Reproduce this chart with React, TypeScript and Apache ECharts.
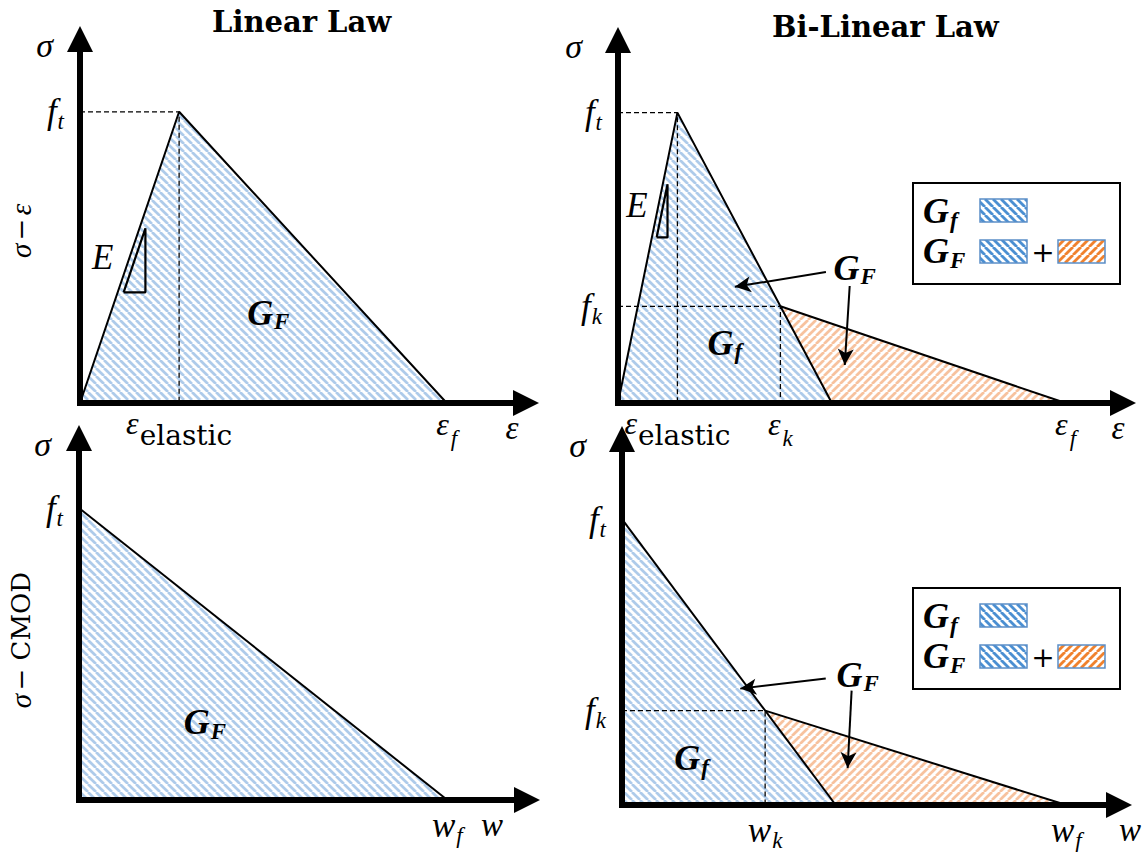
import React, { useEffect, useRef } from 'react';
import * as echarts from 'echarts';

type Pt = [number, number];

// ---- Linear law, stress vs. strain ----
const linEpsCurve: Pt[] = [[0, 0], [1.0, 1.0], [3.7, 0]];
const linEpsGuide: Pt[] = [[0, 1.0], [1.0, 1.0], [1.0, 0]];
const linEpsSlope: Pt[] = [[0.44, 0.38], [0.66, 0.38], [0.66, 0.6], [0.44, 0.38]];
const linEpsXTicks = [1.0, 3.7];
const linEpsXLabels = ['{eps|ε}{txt|elastic}', '{eps|ε}{sub|f}'];
const linEpsYTicks = [1.0];
const linEpsYLabels = ['{m|f}{sub|t}'];

// ---- Bi-linear law, stress vs. strain ----
const biEpsCurve: Pt[] = [[0, 0], [0.6, 1.0], [2.16, 0]];
const biEpsTail: Pt[] = [[1.64, 0.333], [4.52, 0]];
const biEpsGuidePeak: Pt[] = [[0, 1.0], [0.6, 1.0], [0.6, 0]];
const biEpsGuideKink: Pt[] = [[0, 0.333], [1.64, 0.333], [1.64, 0]];
const biEpsSlope: Pt[] = [[0.39, 0.57], [0.5, 0.57], [0.5, 0.753], [0.39, 0.57]];
const biEpsXTicks = [0.6, 1.64, 4.52];
const biEpsXLabels = ['{eps|ε}{txt|elastic}', '{eps|ε}{sub|k}', '{eps|ε}{sub|f}'];
const biEpsYTicks = [0.333, 1.0];
const biEpsYLabels = ['{m|f}{sub|k}', '{m|f}{sub|t}'];

// ---- Linear law, stress vs. CMOD ----
const linCmodCurve: Pt[] = [[0, 1.0], [3.7, 0]];
const linCmodXTicks = [3.7];
const linCmodXLabels = ['{m|w}{sub|f}'];
const linCmodYTicks = [1.0];
const linCmodYLabels = ['{m|f}{sub|t}'];

// ---- Bi-linear law, stress vs. CMOD ----
const biCmodCurve: Pt[] = [[0, 1.0], [2.15, 0]];
const biCmodTail: Pt[] = [[1.44, 0.33], [4.47, 0]];
const biCmodGuide: Pt[] = [[0, 0.33], [1.44, 0.33], [1.44, 0]];
const biCmodXTicks = [1.44, 4.47];
const biCmodXLabels = ['{m|w}{sub|k}', '{m|w}{sub|f}'];
const biCmodYTicks = [0.33, 1.0];
const biCmodYLabels = ['{m|f}{sub|k}', '{m|f}{sub|t}'];

const SERIF = 'Liberation Serif';
const ROMAN = 'DejaVu Serif';

const RICH: any = {
  m: { fontFamily: SERIF, fontStyle: 'italic', fontSize: 35, color: '#000' },
  eps: { fontFamily: SERIF, fontStyle: 'italic', fontSize: 32, color: '#000', padding: [0, 1, 10, 0] },
  sub: { fontFamily: SERIF, fontStyle: 'italic', fontSize: 23, color: '#000', padding: [20, 0, 0, 1] },
  txt: { fontFamily: ROMAN, fontSize: 28, color: '#000', padding: [14, 0, 0, 0] },
  g: { fontFamily: SERIF, fontStyle: 'italic', fontWeight: 'bold', fontSize: 36, color: '#000' },
  gs: { fontFamily: SERIF, fontStyle: 'italic', fontWeight: 'bold', fontSize: 23, color: '#000', padding: [18, 0, 0, 1] },
};

function stripes(color: string, dir: 'back' | 'fwd', period: number, width: number) {
  const c = document.createElement('canvas');
  c.width = period;
  c.height = period;
  const ctx = c.getContext('2d')!;
  ctx.fillStyle = '#ffffff';
  ctx.fillRect(0, 0, period, period);
  ctx.strokeStyle = color;
  ctx.lineWidth = width;
  for (const o of [-period, 0, period]) {
    ctx.beginPath();
    if (dir === 'back') {
      ctx.moveTo(o, 0);
      ctx.lineTo(o + period, period);
    } else {
      ctx.moveTo(o, period);
      ctx.lineTo(o + period, 0);
    }
    ctx.stroke();
  }
  return { image: c.toDataURL(), repeat: 'repeat', imageWidth: period, imageHeight: period };
}

function pick(ticks: number[], labels: string[]) {
  return (v: number) => {
    const i = ticks.findIndex((t) => Math.abs(t - v) < 1e-6);
    return i >= 0 ? labels[i] : '';
  };
}

export default function App() {
  const ref = useRef<HTMLDivElement>(null);

  useEffect(() => {
    document.body.style.margin = '0';
    const chart = echarts.init(ref.current!, null, { renderer: 'svg' });

    const blueFill = stripes('#aecbea', 'back', 8, 2.7);
    const orangeFill = stripes('#f7c29e', 'fwd', 8, 2.7);
    const blueKey = stripes('#4b8fd2', 'back', 8, 2.8);
    const orangeKey = stripes('#f0822e', 'fwd', 8, 2.8);

    const grids = [
      { left: 80, top: 39, width: 446, height: 364 },
      { left: 618, top: 40, width: 505, height: 363 },
      { left: 79, top: 438, width: 448, height: 362 },
      { left: 622, top: 439, width: 497, height: 368 },
    ];

    const axisLine = {
      show: true,
      onZero: false,
      symbol: ['none', 'triangle'],
      symbolSize: [26, 26],
      lineStyle: { color: '#000', width: 6, cap: 'square' },
    };

    const xAxis = (gridIndex: number, max: number, ticks: number[], labels: string[], name: string, nameGap: number) => ({
      gridIndex,
      type: 'value',
      min: 0,
      max,
      z: 5,
      axisLine,
      axisTick: { show: false },
      splitLine: { show: false },
      axisLabel: { customValues: ticks, formatter: pick(ticks, labels), rich: RICH, margin: 4 },
      name,
      nameLocation: 'end',
      nameGap,
      nameTextStyle: {
        fontFamily: SERIF, fontStyle: 'italic', fontSize: 33, color: '#000',
        align: 'center', verticalAlign: 'top', padding: [8, 0, 0, 0],
      },
    });

    const yAxis = (gridIndex: number, max: number, ticks: number[], labels: string[], padRight: number) => ({
      gridIndex,
      type: 'value',
      min: 0,
      max,
      z: 5,
      axisLine,
      axisTick: { show: false },
      splitLine: { show: false },
      axisLabel: { customValues: ticks, formatter: pick(ticks, labels), rich: RICH, margin: 16 },
      name: 'σ',
      nameLocation: 'end',
      nameGap: -6,
      nameTextStyle: {
        fontFamily: SERIF, fontStyle: 'italic', fontSize: 34, color: '#000',
        align: 'right', verticalAlign: 'middle', padding: [0, padRight, 0, 0],
      },
    });

    const area = (i: number, data: Pt[], fill: any) => ({
      type: 'line', xAxisIndex: i, yAxisIndex: i, data, symbol: 'none',
      lineStyle: { color: '#000', width: 2 },
      areaStyle: { color: fill, opacity: 1 },
    });
    const guide = (i: number, data: Pt[]) => ({
      type: 'line', xAxisIndex: i, yAxisIndex: i, data, symbol: 'none', z: 3,
      lineStyle: { color: '#000', width: 1.3, type: [5, 3] },
    });
    const outline = (i: number, data: Pt[]) => ({
      type: 'line', xAxisIndex: i, yAxisIndex: i, data, symbol: 'none', z: 3,
      lineStyle: { color: '#000', width: 2.2 },
    });
    const notes = (i: number, items: { at: Pt; text: string }[], arrows: [Pt, Pt][] = []) => ({
      type: 'scatter', xAxisIndex: i, yAxisIndex: i, symbolSize: 0.5, z: 4,
      itemStyle: { color: '#000', opacity: 1 },
      emphasis: { disabled: true },
      label: {
        show: true, position: 'inside', rich: RICH, color: '#000',
        textBorderWidth: 0, textShadowBlur: 0, opacity: 1,
      },
      data: items.map((it) => ({ value: it.at, label: { formatter: it.text } })),
      markLine: arrows.length
        ? {
            silent: true,
            symbol: ['none', 'arrow'],
            symbolSize: [12, 16],
            lineStyle: { color: '#000', width: 2, type: 'solid' },
            label: { show: false },
            data: arrows.map(([a, b]) => [{ coord: a }, { coord: b }]),
          }
        : undefined,
    });

    const legendKey = (x: number, y: number) => ({
      type: 'group',
      x,
      y,
      children: [
        { type: 'rect', shape: { x: 0, y: 0, width: 207, height: 101 }, style: { fill: '#fff', stroke: '#000', lineWidth: 2 } },
        { type: 'text', x: 10, y: 28, style: { text: '{g|G}{gs|f}', rich: RICH, verticalAlign: 'middle' } },
        { type: 'rect', shape: { x: 67, y: 16, width: 47, height: 23 }, style: { fill: blueKey, stroke: '#5b8fc8', lineWidth: 1.5 } },
        { type: 'text', x: 10, y: 68, style: { text: '{g|G}{gs|F}', rich: RICH, verticalAlign: 'middle' } },
        { type: 'rect', shape: { x: 67, y: 57, width: 47, height: 23 }, style: { fill: blueKey, stroke: '#5b8fc8', lineWidth: 1.5 } },
        { type: 'text', x: 130, y: 69, style: { text: '+', font: `28px "${ROMAN}"`, fill: '#000', align: 'center', verticalAlign: 'middle' } },
        { type: 'rect', shape: { x: 145, y: 57, width: 47, height: 23 }, style: { fill: orangeKey, stroke: '#5b8fc8', lineWidth: 1.5 } },
      ],
    });

    const sideRich = {
      m: { fontFamily: SERIF, fontStyle: 'italic', fontSize: 29, color: '#000' },
      r: { fontFamily: ROMAN, fontSize: 26, color: '#000' },
    };

    const option: any = {
      animation: false,
      backgroundColor: '#fff',
      title: [
        { text: 'Linear Law', left: 207, top: 2, textStyle: { fontFamily: ROMAN, fontWeight: 'bold', fontSize: 29, color: '#000' } },
        { text: 'Bi-Linear Law', left: 767, top: 7, textStyle: { fontFamily: ROMAN, fontWeight: 'bold', fontSize: 29, color: '#000' } },
      ],
      grid: grids,
      xAxis: [
        xAxis(0, 4.5, linEpsXTicks, linEpsXLabels, 'ε', -14),
        xAxis(1, 5.1, biEpsXTicks, biEpsXLabels, 'ε', -5),
        xAxis(2, 4.5, linCmodXTicks, linCmodXLabels, 'w', -35),
        xAxis(3, 5.0, biCmodXTicks, biCmodXLabels, 'w', 11),
      ],
      yAxis: [
        yAxis(0, 1.25, linEpsYTicks, linEpsYLabels, 27),
        yAxis(1, 1.25, biEpsYTicks, biEpsYLabels, 36),
        yAxis(2, 1.24, linCmodYTicks, linCmodYLabels, 28),
        yAxis(3, 1.28, biCmodYTicks, biCmodYLabels, 36),
      ],
      series: [
        // linear, stress-strain
        area(0, linEpsCurve, blueFill),
        guide(0, linEpsGuide),
        outline(0, linEpsSlope),
        notes(0, [
          { at: [1.9, 0.31], text: '{g|G}{gs|F}' },
          { at: [0.23, 0.5], text: '{m|E}' },
        ]),
        // bi-linear, stress-strain
        area(1, biEpsTail, orangeFill),
        area(1, biEpsCurve, blueFill),
        guide(1, biEpsGuidePeak),
        guide(1, biEpsGuideKink),
        outline(1, biEpsSlope),
        notes(
          1,
          [
            { at: [1.08, 0.207], text: '{g|G}{gs|f}' },
            { at: [0.19, 0.68], text: '{m|E}' },
            { at: [2.39, 0.465], text: '{g|G}{gs|F}' },
          ],
          [
            [[2.1, 0.451], [1.18, 0.4]],
            [[2.34, 0.403], [2.29, 0.131]],
          ],
        ),
        // linear, stress-CMOD
        area(2, linCmodCurve, blueFill),
        notes(2, [{ at: [1.265, 0.267], text: '{g|G}{gs|F}' }]),
        // bi-linear, stress-CMOD
        area(3, biCmodTail, orangeFill),
        area(3, biCmodCurve, blueFill),
        guide(3, biCmodGuide),
        notes(
          3,
          [
            { at: [0.7, 0.163], text: '{g|G}{gs|f}' },
            { at: [2.37, 0.456], text: '{g|G}{gs|F}' },
          ],
          [
            [[2.05, 0.442], [1.19, 0.407]],
            [[2.31, 0.4], [2.27, 0.129]],
          ],
        ),
      ],
      graphic: [
        {
          type: 'text', x: 21, y: 231, rotation: Math.PI / 2,
          style: { text: '{m|σ} {r|−} {m|ε}', rich: sideRich, align: 'center', verticalAlign: 'middle' },
        },
        {
          type: 'text', x: 21, y: 640, rotation: Math.PI / 2,
          style: { text: '{m|σ} {r|− CMOD}', rich: sideRich, align: 'center', verticalAlign: 'middle' },
        },
        legendKey(913, 183),
        legendKey(913, 588),
      ],
    };

    chart.setOption(option);
    return () => chart.dispose();
  }, []);

  return <div ref={ref} style={{ width: 1147, height: 852 }} />;
}
